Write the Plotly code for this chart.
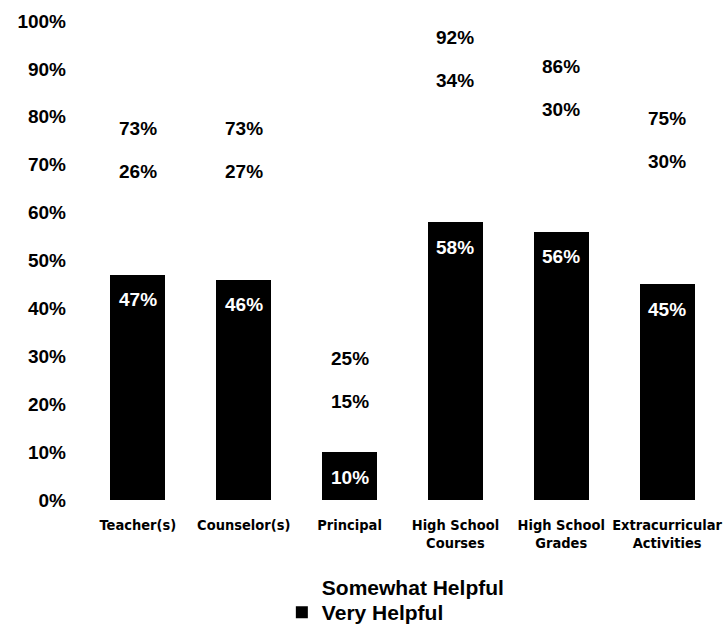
import plotly.graph_objects as go

categories = ["Teacher(s)", "Counselor(s)", "Principal", "High School<br>Courses",
              "High School<br>Grades", "Extracurricular<br>Activities"]
very_helpful = [47, 46, 10, 58, 56, 45]
somewhat_helpful = [26, 27, 15, 34, 30, 30]
totals = [v + s for v, s in zip(very_helpful, somewhat_helpful)]
y_ticks = list(range(0, 101, 10))

LBL = "Liberation Sans, Arial, Helvetica, sans-serif"
NARROW = "DejaVu Sans Condensed, Liberation Sans Narrow, Arial Narrow, sans-serif"

fig = go.Figure()
fig.add_trace(go.Bar(name="<b>Very Helpful</b>", x=categories, y=very_helpful,
                     legend="legend2",
                     marker=dict(color="black", line=dict(width=0))))
fig.add_trace(go.Bar(name="<b>Somewhat Helpful</b>", x=categories, y=somewhat_helpful,
                     legend="legend",
                     marker=dict(color="white", line=dict(width=0))))

annotations = []
for c, v, s, t in zip(categories, very_helpful, somewhat_helpful, totals):
    annotations.append(dict(x=c, y=v, text=f"<b>{v}%</b>", showarrow=False,
                            yshift=-25, font=dict(color="white", size=19, family=LBL)))
    annotations.append(dict(x=c, y=t, text=f"<b>{s}%</b>", showarrow=False,
                            yshift=-21, font=dict(color="black", size=19, family=LBL)))
    annotations.append(dict(x=c, y=t, text=f"<b>{t}%</b>", showarrow=False,
                            yshift=22, font=dict(color="black", size=19, family=LBL)))

legend_common = dict(orientation="v", x=0.310, xanchor="left", yanchor="middle",
                     font=dict(size=21, family=LBL, color="black"),
                     bgcolor="rgba(0,0,0,0)")

fig.update_layout(
    barmode="stack",
    bargap=0.48,
    width=723, height=626,
    margin=dict(l=85, r=3, t=21, b=126, autoexpand=False),
    plot_bgcolor="white", paper_bgcolor="white",
    showlegend=True,
    legend=dict(y=-0.1816, **legend_common),
    legend2=dict(y=-0.2349, **legend_common),
    annotations=annotations,
    xaxis=dict(showline=False, showgrid=False, ticks="", tickangle=0, automargin=False,
               ticklabelstandoff=14,
               tickfont=dict(size=14.5, family=NARROW, color="black"),
               tickprefix="<b>", ticksuffix="</b>"),
    yaxis=dict(range=[0, 100], tickvals=y_ticks, ticktext=[f"<b>{v}%</b>" for v in y_ticks],
               showgrid=False, showline=False, zeroline=False, ticks="", automargin=False,
               ticklabelstandoff=18,
               tickfont=dict(size=19, family=LBL, color="black")),
)
fig.write_html("out.html", config={"displayModeBar": False},
               post_script="document.body.style.margin='0';document.body.style.overflow='hidden';")
